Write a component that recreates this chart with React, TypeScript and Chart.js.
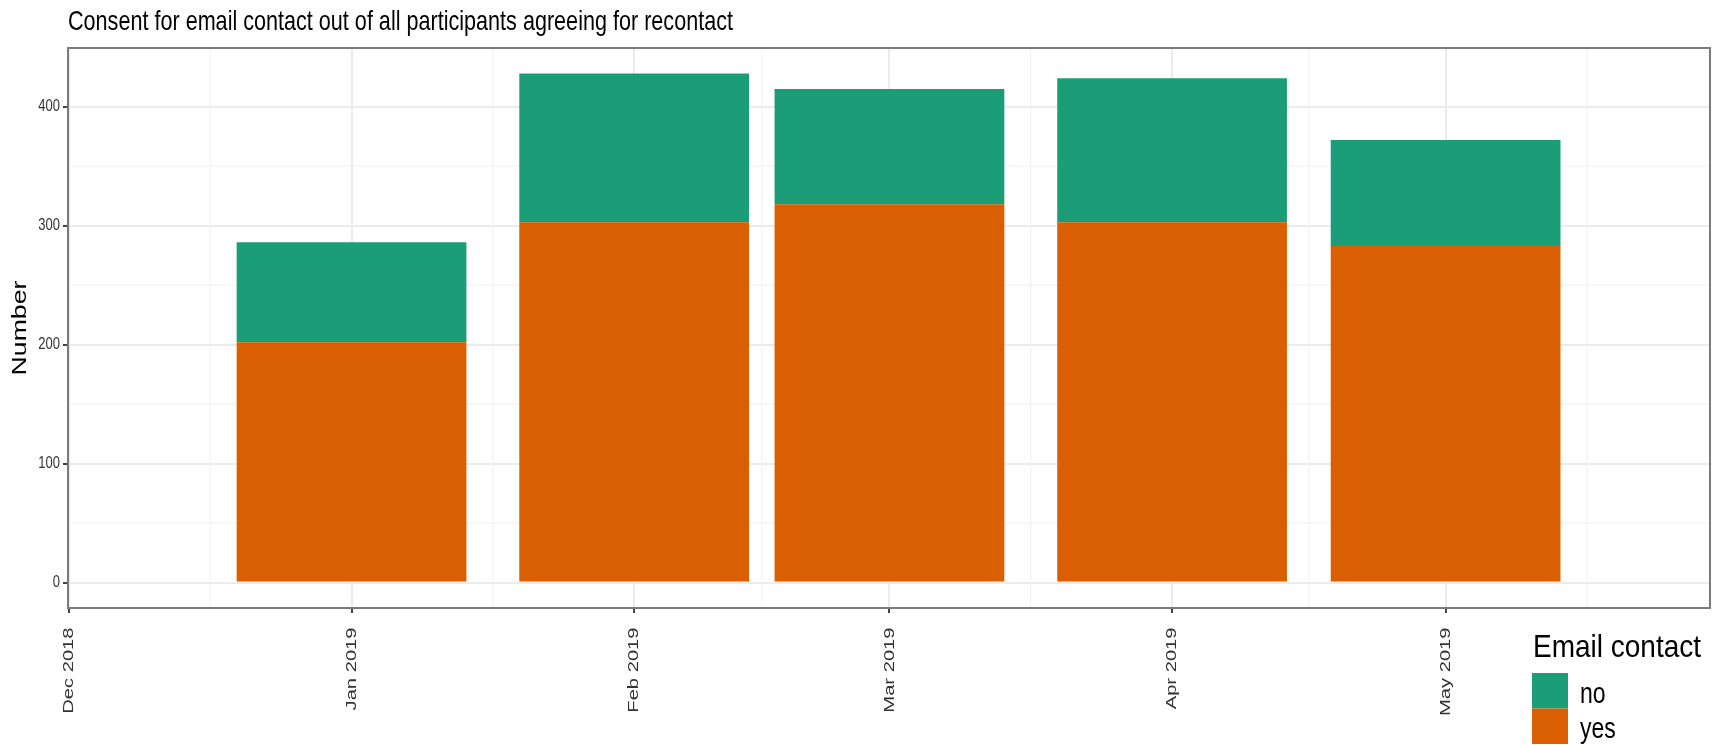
import React, { useEffect, useRef } from "react";
import { Chart, registerables } from "chart.js";

Chart.register(...registerables);

// ---- data ----
const chartTitle = "Consent for email contact out of all participants agreeing for recontact";
const yAxisTitle = "Number";
const legendTitle = "Email contact";
const seriesNames = ["no", "yes"];
const seriesColors = ["#1B9E77", "#D95F02"];

// bar positions: days since 1 Dec 2018 (Jan 1, Feb 1, Mar 1, Apr 1, May 1)
const barDays = [31, 62, 90, 121, 151];
const yesValues = [202, 303, 318, 303, 283];
const noValues = [84, 125, 97, 121, 89];

const xTickDays = [0, 31, 62, 90, 121, 151];
const xTickLabels = ["Dec 2018", "Jan 2019", "Feb 2019", "Mar 2019", "Apr 2019", "May 2019"];
const xMinorDays = [15.5, 46.5, 76, 105.5, 136, 166.5];
const yTicks = [0, 100, 200, 300, 400];
const yTickLabels = ["0", "100", "200", "300", "400"];
const yMinor = [50, 150, 250, 350];

const X_MIN = -0.1;
const X_MAX = 180;
const Y_MIN = -21.4;
const Y_MAX = 449.4;

const SANS = "'Liberation Sans', Arial, sans-serif";
const STRETCH = 1.3;

function drawText(
  ctx: CanvasRenderingContext2D,
  text: string,
  x: number,
  y: number,
  o: { size: number; color: string; align: CanvasTextAlign; baseline: CanvasTextBaseline; rotate?: number; sy?: number }
) {
  ctx.save();
  ctx.translate(x, y);
  ctx.scale(1, o.sy ?? STRETCH);
  if (o.rotate) ctx.rotate(o.rotate);
  ctx.font = `${o.size}px ${SANS}`;
  ctx.fillStyle = o.color;
  ctx.textAlign = o.align;
  ctx.textBaseline = o.baseline;
  ctx.fillText(text, 0, 0);
  ctx.restore();
}

const decorPlugin = {
  id: "ggDecor",
  beforeDatasetsDraw(chart: any) {
    const { ctx, chartArea: a, scales } = chart;
    ctx.save();
    ctx.strokeStyle = "#f2f2f2";
    ctx.lineWidth = 1.2;
    xMinorDays.forEach((d) => {
      const px = scales.x.getPixelForValue(d);
      ctx.beginPath();
      ctx.moveTo(px, a.top);
      ctx.lineTo(px, a.bottom);
      ctx.stroke();
    });
    yMinor.forEach((v) => {
      const py = scales.y.getPixelForValue(v);
      ctx.beginPath();
      ctx.moveTo(a.left, py);
      ctx.lineTo(a.right, py);
      ctx.stroke();
    });
    ctx.restore();
  },
  afterDraw(chart: any) {
    const { ctx, chartArea: a, scales } = chart;
    ctx.save();
    // panel border
    ctx.strokeStyle = "#7a7a7a";
    ctx.lineWidth = 2;
    ctx.strokeRect(a.left, a.top, a.right - a.left, a.bottom - a.top);
    ctx.restore();

    // title
    drawText(ctx, chartTitle, a.left, 30, { size: 21.6, color: "#000", align: "left", baseline: "alphabetic" });

    // y tick labels
    yTicks.forEach((v, i) => {
      const py = scales.y.getPixelForValue(v);
      drawText(ctx, yTickLabels[i], a.left - 8, py, { size: 13, color: "#333", align: "right", baseline: "middle" });
    });

    // x tick labels (rotated)
    xTickDays.forEach((d, i) => {
      const px = scales.x.getPixelForValue(d);
      drawText(ctx, xTickLabels[i], px, a.bottom + 19.5, {
        size: 15.5,
        color: "#333",
        align: "right",
        baseline: "middle",
        rotate: -Math.PI / 2,
      });
    });

    // y axis title
    drawText(ctx, yAxisTitle, 20, (a.top + a.bottom) / 2, {
      size: 20.5,
      color: "#000",
      align: "center",
      baseline: "middle",
      rotate: -Math.PI / 2,
    });

    // legend
    drawText(ctx, legendTitle, 1533, 657, { size: 28, color: "#000", align: "left", baseline: "alphabetic", sy: 1.1 });
    const keyX = 1532;
    const keyW = 36;
    const keyH = 35.5;
    seriesNames.forEach((name, i) => {
      const ky = 673 + i * keyH;
      ctx.save();
      ctx.fillStyle = seriesColors[i];
      ctx.fillRect(keyX, ky, keyW, keyH);
      ctx.restore();
      drawText(ctx, name, 1580, ky + keyH / 2 + 4, { size: 23, color: "#000", align: "left", baseline: "middle" });
    });
  },
};

export default function App() {
  const ref = useRef<HTMLCanvasElement | null>(null);

  useEffect(() => {
    document.body.style.margin = "0";
    const canvas = ref.current;
    if (!canvas) return;
    const chart = new Chart(canvas, {
      type: "bar",
      data: {
        datasets: [
          {
            label: seriesNames[1],
            data: barDays.map((d, i) => ({ x: d, y: yesValues[i] })),
            backgroundColor: seriesColors[1],
            borderWidth: 0,
            categoryPercentage: 1,
            barPercentage: 0.9,
          },
          {
            label: seriesNames[0],
            data: barDays.map((d, i) => ({ x: d, y: noValues[i] })),
            backgroundColor: seriesColors[0],
            borderWidth: 0,
            categoryPercentage: 1,
            barPercentage: 0.9,
          },
        ],
      } as any,
      options: {
        animation: false,
        responsive: false,
        maintainAspectRatio: false,
        layout: { padding: { top: 48, right: 10, left: 0, bottom: 0 } },
        plugins: {
          legend: { display: false },
          title: { display: false },
          tooltip: { enabled: false },
        },
        scales: {
          x: {
            type: "linear",
            stacked: true,
            offset: false,
            min: X_MIN,
            max: X_MAX,
            afterBuildTicks: (s: any) => {
              s.ticks = xTickDays.map((v) => ({ value: v }));
            },
            afterFit: (s: any) => {
              s.height = 137;
            },
            ticks: { display: false },
            grid: { color: "#ebebeb", lineWidth: 2, drawTicks: true, tickLength: 5, tickColor: "#444", offset: false },
            border: { display: false },
          },
          y: {
            type: "linear",
            stacked: true,
            min: Y_MIN,
            max: Y_MAX,
            afterBuildTicks: (s: any) => {
              s.ticks = yTicks.map((v) => ({ value: v }));
            },
            afterFit: (s: any) => {
              s.width = 68;
            },
            ticks: { display: false },
            grid: { color: "#ebebeb", lineWidth: 2, drawTicks: true, tickLength: 5, tickColor: "#444" },
            border: { display: false },
          },
        },
      } as any,
      plugins: [decorPlugin],
    });
    return () => chart.destroy();
  }, []);

  return (
    <div style={{ width: 1720, height: 745, background: "#fff" }}>
      <canvas ref={ref} width={1720} height={745} style={{ display: "block", width: 1720, height: 745 }} />
    </div>
  );
}
